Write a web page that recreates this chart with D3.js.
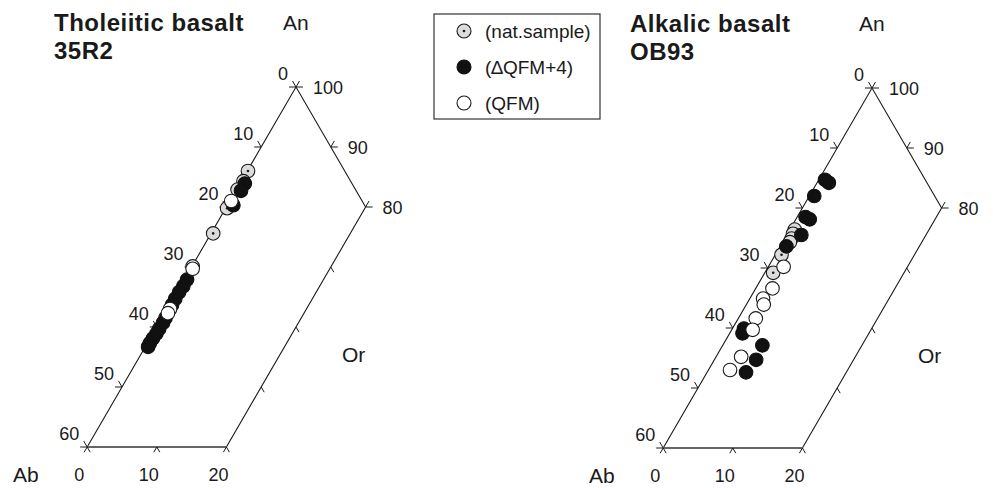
<!DOCTYPE html>
<html>
<head>
<meta charset="utf-8">
<script src="https://cdn.jsdelivr.net/npm/d3@7"></script>
<style>
  html, body { margin: 0; padding: 0; background: #fff; }
  svg { display: block; font-family: "Liberation Sans", Arial, Helvetica, sans-serif; }
</style>
</head>
<body>
<svg id="chart" width="993" height="488"></svg>
<script>
// Tick values along each side of the truncated An–Ab–Or feldspar triangle
const abTicks = [0, 10, 20, 30, 40, 50, 60];   // Ab %, along the Ab–An side
const anTicks = [100, 90, 80];                 // An %, along the An–Or side
const orTicks = [0, 10, 20];                   // Or %, along the An = 40 base
const sideTicks = [50, 60, 70];                // An %, small ticks on the Or = 20 side

// Compositions as [An %, Or %]; Ab = 100 − An − Or
const tholNat = [[86.0, 0.1], [84.3, 0.3], [82.9, 0.15], [79.8, 0.2], [75.6, 0.3]];
const tholOx  = [[83.9, 0.7], [82.7, 0.75], [80.3, 0.85], [67.9, 0.4], [66.8, 0.4], [65.8, 0.3],
                 [64.7, 0.3], [63.7, 0.35], [61.5, 0.5], [60.7, 0.55], [59.7, 0.5], [58.9, 0.5],
                 [58.1, 0.4], [57.3, 0.35], [56.7, 0.4]];
const tholQfm = [[81.0, 0.2], [70.1, 0.1], [69.7, 0.3], [63.0, 0.4], [62.3, 0.45]];

const alkNat = [[76.4, 0.7], [75.7, 0.8], [74.9, 1.0], [74.3, 1.05], [72.2, 0.9], [69.2, 1.2]];
const alkOx  = [[84.7, 0.9], [84.2, 1.7], [82.0, 0.7], [78.5, 1.2], [78.1, 2.0], [75.5, 2.1],
                [73.6, 0.9], [59.9, 1.65], [59.1, 1.85], [57.1, 5.7], [54.7, 6.0], [52.6, 5.6]];
const alkQfm = [[70.2, 2.2], [66.6, 2.4], [64.9, 1.9], [63.9, 2.5], [61.6, 2.5], [59.7, 3.0],
                [55.2, 3.6], [53.0, 3.1]];

const panels = [
  { title: ["Tholeiitic basalt", "35R2"], apex: [296, 87], nat: tholNat, ox: tholOx, qfm: tholQfm },
  { title: ["Alkalic basalt", "OB93"],    apex: [872, 88], nat: alkNat,  ox: alkOx,  qfm: alkQfm }
];

const legendItems = [
  { key: "nat", label: "(nat.sample)" },
  { key: "ox",  label: "(\u2206QFM+4)" },
  { key: "qfm", label: "(QFM)" }
];

const svg = d3.select("#chart");
const ink = "#1a1a1a";

// An % → vertical offset below the An apex; (Or − Ab) % → horizontal offset
const yScale = d3.scaleLinear().domain([100, 40]).range([0, 360]);
const xScale = d3.scaleLinear().domain([-100, 100]).range([-348, 348]);
function project(an, or) {
  const ab = 100 - an - or;
  return [xScale(or - ab), yScale(an)];
}

const dir = {
  left: [-1, 0], right: [1, 0],
  upLeft: [-0.5, -0.866], upRight: [0.5, -0.866],
  downLeft: [-0.5, 0.866], downRight: [0.5, 0.866]
};
function tick(g, p, dirs, len) {
  dirs.forEach(k => {
    const v = dir[k];
    g.append("line")
      .attr("x1", p[0]).attr("y1", p[1])
      .attr("x2", p[0] + v[0] * len).attr("y2", p[1] + v[1] * len)
      .attr("stroke", ink).attr("stroke-width", 1);
  });
}

function drawSymbol(g, key, x, y, r) {
  if (key === "nat") {
    g.append("circle").attr("cx", x).attr("cy", y).attr("r", r)
      .attr("fill", "#dcdcdc").attr("stroke", ink).attr("stroke-width", 1.1);
    g.append("circle").attr("cx", x).attr("cy", y).attr("r", 1.3).attr("fill", ink);
  } else if (key === "ox") {
    g.append("circle").attr("cx", x).attr("cy", y).attr("r", r)
      .attr("fill", "#111").attr("stroke", "#111").attr("stroke-width", 1.1);
  } else {
    g.append("circle").attr("cx", x).attr("cy", y).attr("r", r)
      .attr("fill", "#fff").attr("stroke", ink).attr("stroke-width", 1.1);
  }
}

panels.forEach(pn => {
  const g = svg.append("g").attr("transform", `translate(${pn.apex[0]},${pn.apex[1]})`);

  // frame of the truncated triangle
  const apex = project(100, 0), leftC = project(40, 0), baseR = project(40, 20), rightC = project(80, 20);
  g.append("path")
    .attr("d", d3.line()([baseR, rightC, apex, leftC]))
    .attr("fill", "none").attr("stroke", ink).attr("stroke-width", 1.1);
  g.append("path")
    .attr("d", d3.line()([leftC, baseR]))
    .attr("fill", "none").attr("stroke", "#666").attr("stroke-width", 2);

  // Ab side ticks and labels
  abTicks.forEach(v => {
    const p = project(100 - v, 0);
    tick(g, p, ["left", "upLeft"], 7);
    g.append("text").attr("x", p[0] - 8).attr("y", p[1] - 13.5)
      .attr("text-anchor", "end").attr("dominant-baseline", "central")
      .attr("font-size", 18).attr("fill", ink).text(v);
  });
  // An side ticks and labels
  anTicks.forEach(v => {
    const p = project(v, 100 - v);
    tick(g, p, ["right", "upRight"], 7);
    g.append("text").attr("x", p[0] + 17).attr("y", p[1] + 0.5)
      .attr("text-anchor", "start").attr("dominant-baseline", "central")
      .attr("font-size", 18).attr("fill", ink).text(v);
  });
  // Or base ticks and labels
  orTicks.forEach(v => {
    const p = project(40, v);
    tick(g, p, ["downLeft", "downRight"], 6);
    g.append("text").attr("x", p[0] - 8).attr("y", p[1] + 27.5)
      .attr("text-anchor", "middle").attr("dominant-baseline", "central")
      .attr("font-size", 18).attr("fill", ink).text(v);
  });
  // small ticks on the Or = 20 side
  sideTicks.forEach(v => {
    const p = project(v, 20);
    tick(g, p, ["downRight"], 6);
  });

  // end-member names
  const nameFont = 21;
  g.append("text").attr("x", -13).attr("y", -57).attr("font-size", nameFont).attr("fill", ink).text("An");
  g.append("text").attr("x", 46).attr("y", 275).attr("font-size", nameFont).attr("fill", ink).text("Or");
  g.append("text").attr("x", -283).attr("y", 395).attr("font-size", nameFont).attr("fill", ink).text("Ab");

  // panel title
  pn.title.forEach((t, i) => {
    g.append("text").attr("x", -242).attr("y", -56 + i * 28)
      .attr("font-size", 24).attr("font-weight", "bold").attr("letter-spacing", 0.5)
      .attr("fill", ink).text(t);
  });

  // data
  const pts = g.append("g");
  [["nat", pn.nat], ["ox", pn.ox], ["qfm", pn.qfm]].forEach(([key, arr]) => {
    arr.forEach(d => {
      const p = project(d[0], d[1]);
      drawSymbol(pts, key, p[0], p[1], 6.8);
    });
  });
});

// legend
const lg = svg.append("g").attr("transform", "translate(434,14)");
lg.append("rect").attr("x", 0).attr("y", 0).attr("width", 166).attr("height", 105)
  .attr("fill", "#fff").attr("stroke", "#333").attr("stroke-width", 1.2);
legendItems.forEach((it, i) => {
  const y = 17 + i * 36;
  drawSymbol(lg, it.key, 30, y, 7);
  lg.append("text").attr("x", 51).attr("y", y).attr("dominant-baseline", "central")
    .attr("font-size", 19).attr("fill", ink).text(it.label);
});
</script>
</body>
</html>
